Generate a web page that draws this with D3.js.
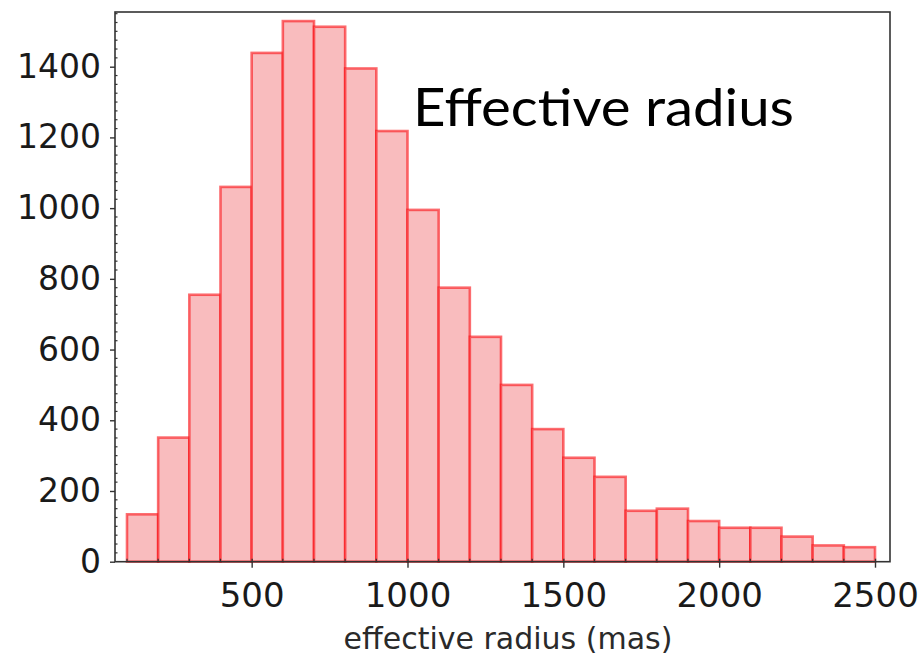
<!DOCTYPE html>
<html><head><meta charset="utf-8">
<script src="https://cdn.jsdelivr.net/npm/d3@7"></script>
<style>body{margin:0;background:#fff;}svg{display:block;}</style>
</head><body>
<svg id="c" width="921" height="662"></svg>
<script>
const binStarts = [100,200,300,400,500,600,700,800,900,1000,1100,1200,1300,1400,1500,1600,1700,1800,1900,2000,2100,2200,2300,2400];
const binWidth = 100;
const counts = [134,351,755,1060,1439,1529,1513,1395,1218,995,775,636,500,375,294,240,144,150,115,96,96,71,46,41];
const xTicks = [500,1000,1500,2000,2500];
const yTicks = [0,200,400,600,800,1000,1200,1400];
const title = "Effective radius";
const xLabel = "effective radius (mas)";

const svg = d3.select("#c");
const L = 115, R = 890, T = 12, B = 561.7;
const x = d3.scaleLinear().domain([100,2500]).range([127,875]);
const y = d3.scaleLinear().domain([0,1400]).range([B,66.7]);

// bars
svg.append("g").selectAll("rect").data(binStarts).join("rect")
  .attr("x",(d)=>x(d)).attr("width",(d)=>x(d+binWidth)-x(d))
  .attr("y",(d,i)=>y(counts[i])).attr("height",(d,i)=>B-y(counts[i]))
  .attr("fill","#f9bcbe").attr("stroke","rgba(250,20,25,0.62)").attr("stroke-width",2.6);

// frame
svg.append("rect").attr("x",L).attr("y",T).attr("width",R-L).attr("height",B-T)
  .attr("fill","none").attr("stroke","#333").attr("stroke-width",1.6);

// y axis
const yMinor = d3.range(0,1560,25).filter(v=>v%200!==0);
const yAx = d3.axisLeft(y).tickValues(yTicks).tickSize(5).tickPadding(9).tickFormat(d3.format("d"));
const gy = svg.append("g").attr("transform",`translate(${L},0)`).call(yAx);
gy.select(".domain").remove();
gy.selectAll("line").attr("stroke","#333").attr("stroke-width",1.4);
gy.selectAll("text").attr("font-family","DejaVu Sans").attr("font-size",33).attr("fill","#1a1a1a");
svg.append("g").selectAll("line").data(yMinor).join("line")
  .attr("x1",L).attr("x2",L+2.5).attr("y1",d=>y(d)).attr("y2",d=>y(d))
  .attr("stroke","#333").attr("stroke-width",1.2);

// x axis
const xMinor = d3.range(100,2501,100).filter(v=>v%500!==0);
const xAx = d3.axisBottom(x).tickValues(xTicks).tickSize(6).tickPadding(15).tickFormat(d3.format("d"));
const gx = svg.append("g").attr("transform",`translate(0,${B})`).call(xAx);
gx.select(".domain").remove();
gx.selectAll("line").attr("stroke","#333").attr("stroke-width",1.4).attr("y1",-3);
gx.selectAll("text").attr("font-family","DejaVu Sans").attr("font-size",34).attr("fill","#1a1a1a");
svg.append("g").selectAll("line").data(xMinor).join("line")
  .attr("x1",d=>x(d)).attr("x2",d=>x(d)).attr("y1",B).attr("y2",B-3)
  .attr("stroke","#333").attr("stroke-width",1.2);

svg.append("text").attr("x",508).attr("y",649).attr("text-anchor","middle")
  .attr("font-family","DejaVu Sans").attr("font-size",30).attr("fill","#2a2a2a").text(xLabel);

svg.append("text").attr("x",413).attr("y",126).attr("font-family","Lato").attr("font-size",52)
  .attr("textLength",381).attr("lengthAdjust","spacingAndGlyphs")
  .attr("fill","#000").text(title);
</script>
</body></html>
